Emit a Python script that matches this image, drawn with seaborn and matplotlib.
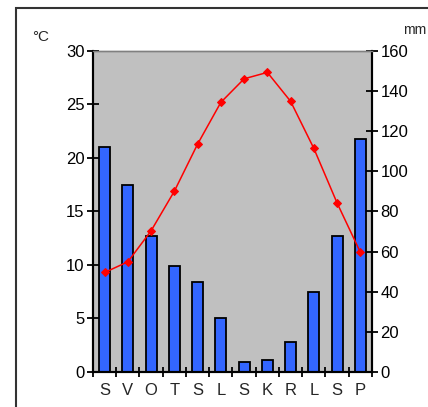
import matplotlib
matplotlib.use("Agg")
import matplotlib.pyplot as plt
import numpy as np
import pandas as pd
import seaborn as sns
from matplotlib.patches import Rectangle

# Climate diagram: monthly precipitation (bars, mm) and temperature (line, °C)
months = ["S", "V", "O", "T", "S", "L", "S", "K", "R", "L", "S", "P"]
precip_mm = [112, 93, 68, 53, 45, 27, 5, 6, 15, 40, 68, 116]
temp_c = [9.3, 10.3, 13.2, 16.9, 21.3, 25.2, 27.4, 28.0, 25.3, 20.9, 15.8, 11.2]

df = pd.DataFrame({"idx": range(len(months)), "month": months,
                   "precip": precip_mm, "temp": temp_c})

sns.set_theme(style="white")
plt.rcParams["font.family"] = ["Liberation Sans", "DejaVu Sans"]

fig = plt.figure(figsize=(4.28, 4.07), dpi=100)
fig.patch.set_facecolor("white")
ax = fig.add_axes([0.2173, 0.086, 0.6517, 0.7887])

# outer frame of the original picture
fig.patches.append(Rectangle((16 / 428, -0.1), 1.0, (407 - 8) / 407 + 0.1,
                             transform=fig.transFigure, fill=False,
                             edgecolor="#333333", linewidth=1.5))

# bars: precipitation on the right-hand scale
ax.set_facecolor("#c0c0c0")
sns.barplot(data=df, x="idx", y="precip", color="#3366ff", width=0.47,
            edgecolor="black", linewidth=1.3, saturation=1, ax=ax, zorder=2)
ax.set_ylim(0, 160)
ax.set_xlim(-0.5, 11.5)

# line: temperature on the left-hand scale
ax2 = ax.twinx()
sns.lineplot(data=df, x="idx", y="temp", color="red", linewidth=1.1,
             marker="D", markersize=4.5, markeredgecolor="red", ax=ax2)
ax2.set_ylim(0, 30)
ax2.set_xlim(-0.5, 11.5)

# swap sides: mm on the right, °C on the left
ax.yaxis.tick_right()
ax.set_yticks(np.arange(0, 161, 20))
ax2.yaxis.tick_left()
ax2.set_yticks(np.arange(0, 31, 5))

for a in (ax, ax2):
    a.set_xlabel("")
    a.set_ylabel("")
    a.tick_params(axis="y", direction="inout", length=8, width=1.3,
                  colors="black", labelsize=12, pad=2)
    for side in ("left", "right", "bottom"):
        a.spines[side].set_color("black")
        a.spines[side].set_linewidth(1.5)
    a.spines["top"].set_color("#808080")
    a.spines["top"].set_linewidth(1)

ax.set_xticks(range(len(months)))
ax.set_xticklabels(months, fontsize=12)
ax.set_xticks(np.arange(-0.5, 12, 1), minor=True)
ax.tick_params(axis="x", which="major", length=0, pad=8)
ax.tick_params(axis="x", which="minor", direction="inout", length=7,
               width=1.3, bottom=True, colors="black")
ax2.tick_params(axis="x", which="both", length=0, labelbottom=False)

fig.text(41 / 428, 1 - 37 / 407, "°C", fontsize=11, ha="center", va="center")
fig.text(426 / 428, 1 - 30 / 407, "mm", fontsize=10, ha="right", va="center")

fig.savefig("out.png", dpi=100, facecolor="white")
